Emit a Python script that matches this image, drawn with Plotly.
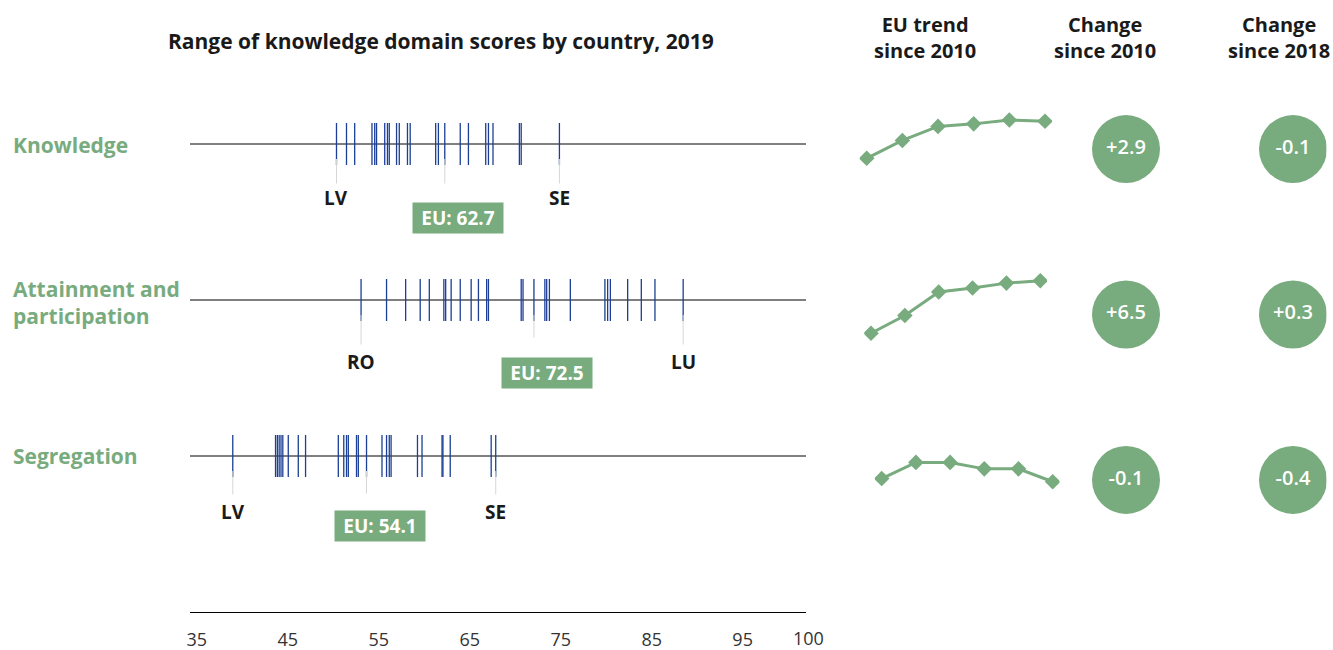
import plotly.graph_objects as go

# ---------------- data ----------------
ROWS = ["Knowledge", "Attainment and participation", "Segregation"]
ROW_LABELS = ["Knowledge", "Attainment and<br>participation", "Segregation"]

KNOWLEDGE_SCORES = [50.8, 51.9, 52.8, 54.7, 55.0, 55.2, 56.1, 56.4, 56.6, 57.4, 57.7, 58.6,
                    58.9, 61.7, 62.0, 62.7, 64.4, 65.3, 67.2, 67.5, 68.0, 70.9, 71.1, 75.3]
ATTAINMENT_SCORES = [53.5, 56.3, 58.4, 60.0, 61.0, 62.6, 62.8, 63.4, 64.4, 65.6, 66.4, 67.3,
                     67.5, 71.1, 71.3, 72.5, 73.7, 73.9, 74.2, 76.5, 80.3, 80.6, 80.9, 82.8,
                     84.3, 85.8, 88.9]
SEGREGATION_SCORES = [39.4, 44.1, 44.3, 44.5, 44.7, 44.9, 45.5, 46.6, 47.4, 51.0, 51.6, 51.9,
                      52.1, 53.0, 53.2, 54.1, 55.8, 56.3, 56.6, 56.8, 59.7, 60.2, 62.4, 62.5,
                      63.3, 67.8, 68.3]
SCORES = [KNOWLEDGE_SCORES, ATTAINMENT_SCORES, SEGREGATION_SCORES]

LOW_COUNTRY = ["LV", "RO", "LV"]
HIGH_COUNTRY = ["SE", "LU", "SE"]
EU_SCORE = [62.7, 72.5, 54.1]

YEARS = ["2010", "2012", "2015", "2017", "2018", "2019"]
TREND_KNOWLEDGE = [59.8, 61.2, 62.3, 62.5, 62.8, 62.7]
TREND_ATTAINMENT = [66.0, 68.2, 71.1, 71.6, 72.2, 72.5]
TREND_SEGREGATION = [54.2, 54.7, 54.7, 54.5, 54.5, 54.1]
TRENDS = [TREND_KNOWLEDGE, TREND_ATTAINMENT, TREND_SEGREGATION]

CHANGE_COLUMNS = ["Change since 2010", "Change since 2018"]
CHANGE_SINCE_2010 = [2.9, 6.5, -0.1]
CHANGE_SINCE_2018 = [-0.1, 0.3, -0.4]

AXIS_TICKS = [35, 45, 55, 65, 75, 85, 95]
AXIS_END_LABEL = "100"

TITLE = "Range of knowledge domain scores by country, 2019"
HEADERS = ["EU trend<br>since 2010", "Change<br>since 2010", "Change<br>since 2018"]

# ---------------- style ----------------
W, H = 1333, 650
GREEN = "#78ab7e"
BLUE = "#1c3f95"
FONT = "Open Sans"
TXT = "#1a1a1a"


def px_x(p):
    return p / W


def px_y(p):
    return 1 - p / H


fig = go.Figure()

# ---- strip chart of country scores ----
for i, vals in enumerate(SCORES):
    fig.add_trace(go.Scatter(
        x=vals, y=[i] * len(vals), mode="markers",
        marker=dict(symbol="line-ns", size=30, color=BLUE,
                    line=dict(color=BLUE, width=1.3)),
        xaxis="x", yaxis="y", hoverinfo="x", showlegend=False))

# ---- EU trend sparklines ----
for i, tr in enumerate(TRENDS):
    n = i + 3
    fig.add_trace(go.Scatter(
        x=YEARS, y=tr, mode="lines+markers",
        line=dict(color=GREEN, width=3),
        marker=dict(symbol="diamond", size=12, color=GREEN),
        xaxis=f"x{n}", yaxis=f"y{n}", showlegend=False))

# ---- change circles ----
for col, vals in zip(CHANGE_COLUMNS, [CHANGE_SINCE_2010, CHANGE_SINCE_2018]):
    fig.add_trace(go.Scatter(
        x=[col] * len(vals), y=ROWS, mode="markers+text",
        marker=dict(size=68, color=GREEN),
        text=[f"{v:+.1f}" if v != 0 else "0.0" for v in vals],
        textposition="middle center",
        textfont=dict(family=FONT, size=20, color="white", weight=600),
        xaxis="x2", yaxis="y2", showlegend=False))

layout = dict(
    template="none",
    width=W, height=H, margin=dict(l=0, r=0, t=0, b=0, pad=0, autoexpand=False),
    paper_bgcolor="white", plot_bgcolor="white",
    font=dict(family=FONT, color=TXT),
    showlegend=False,
    xaxis=dict(domain=[px_x(190), px_x(806)], range=[34.70, 102.40], automargin=False,
               showline=True, linecolor="black", linewidth=1, showgrid=False,
               zeroline=False, tickvals=AXIS_TICKS, ticks="",
               tickfont=dict(size=18, color="#333"),
               ticklabelstandoff=11, ticklabelshift=4, anchor="y"),
    yaxis=dict(domain=[px_y(612), px_y(97.2)], range=[3, -0.3], visible=False,
               automargin=False, anchor="x"),
    xaxis2=dict(domain=[px_x(1075.9), px_x(1326.4)], type="category",
                categoryarray=CHANGE_COLUMNS, range=[-0.3, 1.2], visible=False,
                automargin=False, anchor="y2"),
    yaxis2=dict(domain=[px_y(529.6), px_y(99.4)], type="category",
                categoryarray=ROWS, range=[2.3, -0.3], visible=False,
                automargin=False, anchor="x2"),
)

# sparkline axes: (first point px, spacing px, band top px, band bottom px, y range)
SPARK_GEOM = [
    (866.7, 35.66, 105, 175, [58.49, 63.98]),
    (871.0, 33.86, 265, 345, [64.55, 74.44]),
    (881.7, 34.20, 445, 495, [53.69, 55.24]),
]
for i, (x0, dx, top, bot, yr) in enumerate(SPARK_GEOM):
    n = i + 3
    left = x0 - 0.2 * dx
    right = x0 + 5.2 * dx
    layout[f"xaxis{n}"] = dict(domain=[px_x(left), px_x(right)], type="category",
                               range=[-0.2, 5.2], visible=False, automargin=False,
                               anchor=f"y{n}")
    layout[f"yaxis{n}"] = dict(domain=[px_y(bot), px_y(top)], range=yr,
                               visible=False, automargin=False, anchor=f"x{n}")

fig.update_layout(**layout)

# horizontal row lines
for i in range(len(ROWS)):
    fig.add_shape(type="line", xref="x domain", yref="y", x0=0, x1=1, y0=i, y1=i,
                  line=dict(color="black", width=1), layer="below")

ann = []
# connector and label offsets per row (px)
CONN_LEN = [41, 46, 40]
EU_CONN_LEN = [41, 39, 39]
LABEL_OFF = [54, 62, 56]
EU_BOX_OFF = [74, 73, 70]
C = dict(xanchor="center", yanchor="middle")
for i, vals in enumerate(SCORES):
    lo, hi = min(vals), max(vals)
    for v, name in [(lo, LOW_COUNTRY[i]), (hi, HIGH_COUNTRY[i])]:
        ann.append(dict(x=v, y=i, xref="x", yref="y", text="", showarrow=True,
                        arrowhead=0, arrowwidth=1, arrowcolor="#d6d6d6",
                        ax=0, ay=CONN_LEN[i], standoff=15))
        ann.append(dict(x=v, y=i, xref="x", yref="y", text=f"<b>{name}</b>",
                        showarrow=False, yshift=-LABEL_OFF[i],
                        font=dict(size=19, color=TXT), **C))
    eu = EU_SCORE[i]
    ann.append(dict(x=eu, y=i, xref="x", yref="y", text="", showarrow=True,
                    arrowhead=0, arrowwidth=1, arrowcolor="#d6d6d6",
                    ax=0, ay=EU_CONN_LEN[i], standoff=15))
    ann.append(dict(x=eu, y=i, xref="x", yref="y", text=f"<b>EU: {eu:.1f}</b>",
                    showarrow=False, yshift=-EU_BOX_OFF[i], xshift=13,
                    bgcolor=GREEN, width=82, height=22, borderpad=4,
                    font=dict(size=19, color="white"), **C))

# end-of-axis label
ann.append(dict(x=1, y=px_y(638), xref="x domain", yref="paper", text=AXIS_END_LABEL,
                showarrow=False, xshift=2, font=dict(size=18, color="#333"), **C))

# title and column headers
ann.append(dict(x=px_x(441), y=px_y(41), xref="paper", yref="paper",
                text=f"<b>{TITLE}</b>", showarrow=False, font=dict(size=21, color=TXT), **C))
for xc, h in zip([925, 1105, 1279], HEADERS):
    ann.append(dict(x=px_x(xc), y=px_y(38), xref="paper", yref="paper",
                    text=f"<b>{h}</b>", showarrow=False, font=dict(size=20, color=TXT), **C))

# row labels
for yc, lab in zip([145, 302, 456], ROW_LABELS):
    ann.append(dict(x=px_x(11), y=px_y(yc), xref="paper", yref="paper", xanchor="left",
                    yanchor="middle", align="left", text=f"<b>{lab}</b>", showarrow=False,
                    font=dict(size=21, color=GREEN)))

fig.update_layout(annotations=ann)
fig.write_html("out.html", config={"displayModeBar": False},
               post_script="document.body.style.margin='0';")
